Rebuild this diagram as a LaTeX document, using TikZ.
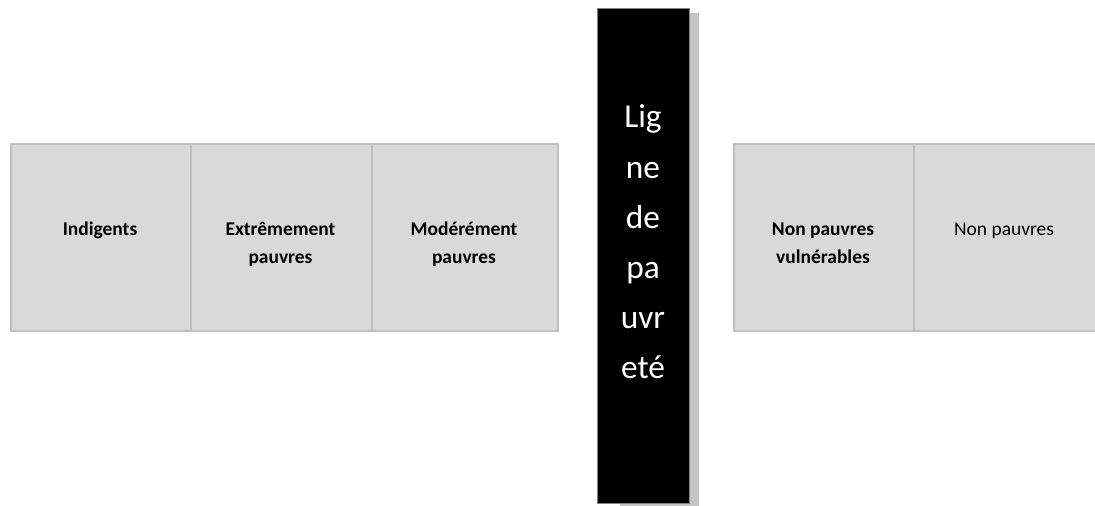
\documentclass[tikz,border=0pt]{standalone}
\usepackage{fontspec}
\setmainfont{Carlito}
\usetikzlibrary{positioning}
\definecolor{boxfill}{HTML}{D9D9D9}
\definecolor{boxline}{HTML}{BFBFBF}
\definecolor{shadowc}{HTML}{C4C4C4}
\tikzset{
  cell/.style={draw=boxline, line width=1.5pt, fill=boxfill, inner sep=0pt, anchor=north west},
  celltext/.style={align=center, anchor=base, inner sep=0pt, font=\fontsize{14.6pt}{21pt}\selectfont},
  bartext/.style={anchor=base, inner sep=0pt, text=white, font=\fontsize{25pt}{37.5pt}\selectfont},
}
\begin{document}
\begin{tikzpicture}[x=0.75pt,y=-0.75pt]
\useasboundingbox (0,0) rectangle (1095,506);
% cells
\node[cell, minimum width=180*0.75pt, minimum height=187*0.75pt] (c1) at (10,143) {};
\node[cell, minimum width=181*0.75pt, minimum height=187*0.75pt] (c2) at (190,143) {};
\node[cell, minimum width=186*0.75pt, minimum height=187*0.75pt] (c3) at (371,143) {};
\node[cell, minimum width=180*0.75pt, minimum height=187*0.75pt] (c4) at (733,143) {};
\node[cell, minimum width=184*0.75pt, minimum height=187*0.75pt] (c5) at (913,143) {};
\node[celltext] (t1) at (100,235) {\bfseries Indigents};
\node[celltext] (t2) at (280.5,263) {\bfseries Extrêmement\\\bfseries pauvres};
\node[celltext] (t3) at (464,263) {\bfseries Modérément\\\bfseries pauvres};
\node[celltext] (t4) at (823,263) {\bfseries Non pauvres\\\bfseries vulnérables};
\node[celltext] (t5) at (1004,235) {Non pauvres};
% poverty line bar with shadow
\fill[shadowc] (620,13) rectangle (699,506);
\node[fill=black, draw=gray, line width=0.4pt, inner sep=0pt, anchor=north west,
      minimum width=92*0.75pt, minimum height=495*0.75pt] (bar) at (597,8) {};
\node[bartext] (b1) at (643,128) {Lig};
\node[bartext] (b2) at (643,178) {ne};
\node[bartext] (b3) at (643,228) {de};
\node[bartext] (b4) at (643,278) {pa};
\node[bartext] (b5) at (643,328) {uvr};
\node[bartext] (b6) at (643,378) {eté};
\end{tikzpicture}
\end{document}
